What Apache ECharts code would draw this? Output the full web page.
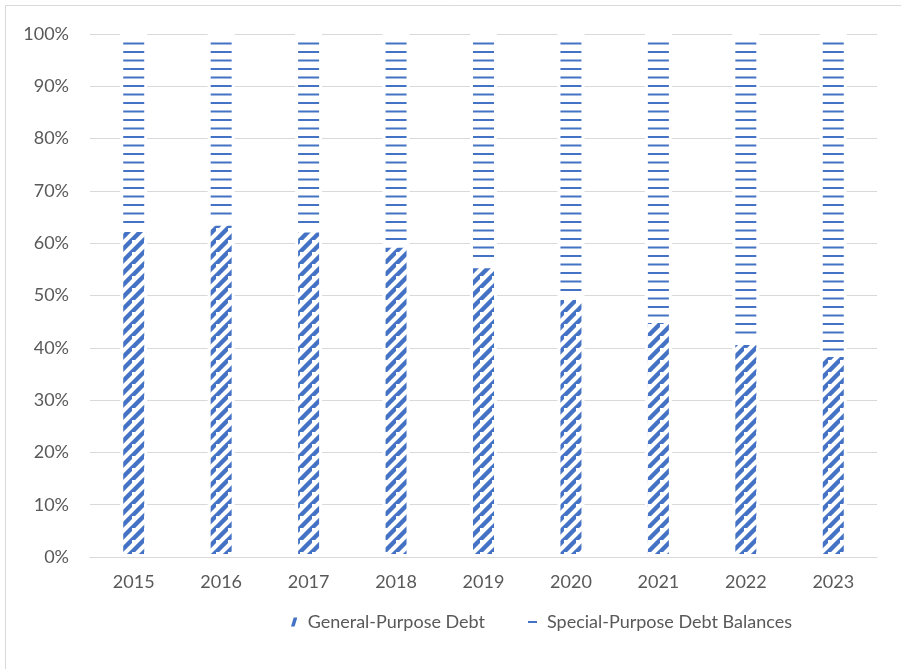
<!DOCTYPE html>
<html>
<head>
<meta charset="utf-8">
<script src="https://cdn.jsdelivr.net/npm/echarts@6/dist/echarts.min.js"></script>
<style>
  html, body { margin: 0; padding: 0; background: #ffffff; }
  #chart { width: 901px; height: 669px; }
</style>
</head>
<body>
<div id="chart"></div>
<script>
// Share of outstanding debt by type, per year (percent)
const years = ['2015', '2016', '2017', '2018', '2019', '2020', '2021', '2022', '2023'];
const generalPurpose = [62.7, 63.9, 62.6, 59.7, 55.8, 49.7, 45.3, 41.1, 38.8];
const specialPurpose = [37.3, 36.1, 37.4, 40.3, 44.2, 50.3, 54.7, 58.9, 61.2];
const seriesNames = ['General-Purpose Debt', 'Special-Purpose Debt Balances'];

const BLUE = '#4472C4';
const TEXT = '#595959';
const GRIDLINE = '#d9d9d9';
const FONT = 'Lato, "Open Sans", sans-serif';

// Wide upward diagonal hatch on white
function diagonalTile() {
  const n = 12;
  const c = document.createElement('canvas');
  c.width = n; c.height = n;
  const g = c.getContext('2d');
  g.fillStyle = '#ffffff';
  g.fillRect(0, 0, n, n);
  g.strokeStyle = BLUE;
  g.lineWidth = 4.4;
  g.beginPath();
  g.moveTo(-4, n + 4); g.lineTo(n + 4, -4);
  g.moveTo(-n - 4, 4); g.lineTo(4, -n - 4);
  g.moveTo(-4, 2 * n + 4); g.lineTo(2 * n + 4, -4);
  g.stroke();
  return c;
}

// Horizontal line hatch on white
function horizontalTile() {
  const c = document.createElement('canvas');
  c.width = 4; c.height = 17;
  const g = c.getContext('2d');
  g.fillStyle = '#ffffff';
  g.fillRect(0, 0, 4, 17);
  g.fillStyle = BLUE;
  g.fillRect(0, 0, 4, 2);
  g.fillRect(0, 8.5, 4, 2);
  return c;
}

const chart = echarts.init(document.getElementById('chart'), null, { renderer: 'canvas' });

const barCommon = {
  type: 'bar',
  stack: 'total',
  barWidth: 27,
  emphasis: { disabled: true }
};

const legendIconStyle = { color: BLUE, borderWidth: 0, decal: 'none' };

chart.setOption({
  animation: false,
  backgroundColor: '#ffffff',
  textStyle: { fontFamily: FONT },
  graphic: [{
    type: 'rect',
    shape: { x: 5.5, y: 5.5, width: 1200, height: 1200 },
    style: { fill: 'none', stroke: GRIDLINE, lineWidth: 1 },
    silent: true,
    z: -10
  }],
  grid: { left: 90, right: 24, top: 34, bottom: 112 },
  xAxis: {
    type: 'category',
    data: years,
    axisLine: { show: true, lineStyle: { color: GRIDLINE, width: 1 } },
    axisTick: { show: false },
    axisLabel: { color: TEXT, fontSize: 18, fontFamily: FONT, margin: 16 }
  },
  yAxis: {
    type: 'value',
    min: 0,
    max: 100,
    interval: 10,
    axisLine: { show: false },
    axisTick: { show: false },
    axisLabel: { color: TEXT, fontSize: 18, fontFamily: FONT, margin: 21, formatter: '{value}%' },
    splitLine: { lineStyle: { color: GRIDLINE, width: 1 } }
  },
  legend: [{
    left: 286,
    top: 608,
    itemWidth: 7,
    itemHeight: 9,
    itemStyle: legendIconStyle,
    textStyle: { color: TEXT, fontSize: 18, fontFamily: FONT, padding: [0, 0, 0, 5] },
    data: [{ name: seriesNames[0], icon: 'path://M3,10 L7,10 L10,0 L6,0 Z' }]
  }, {
    left: 523,
    top: 608,
    itemWidth: 9,
    itemHeight: 2,
    itemStyle: legendIconStyle,
    textStyle: { color: TEXT, fontSize: 18, fontFamily: FONT, padding: [0, 0, 0, 5] },
    data: [{ name: seriesNames[1], icon: 'rect' }]
  }],
  series: [
    Object.assign({}, barCommon, {
      name: seriesNames[0],
      data: generalPurpose,
      itemStyle: {
        color: { image: diagonalTile(), repeat: 'repeat' },
        borderColor: '#ffffff',
        borderWidth: 3
      }
    }),
    Object.assign({}, barCommon, {
      name: seriesNames[1],
      data: specialPurpose,
      itemStyle: {
        color: { image: horizontalTile(), repeat: 'repeat' },
        borderColor: '#ffffff',
        borderWidth: 3
      }
    })
  ]
});
</script>
</body>
</html>
